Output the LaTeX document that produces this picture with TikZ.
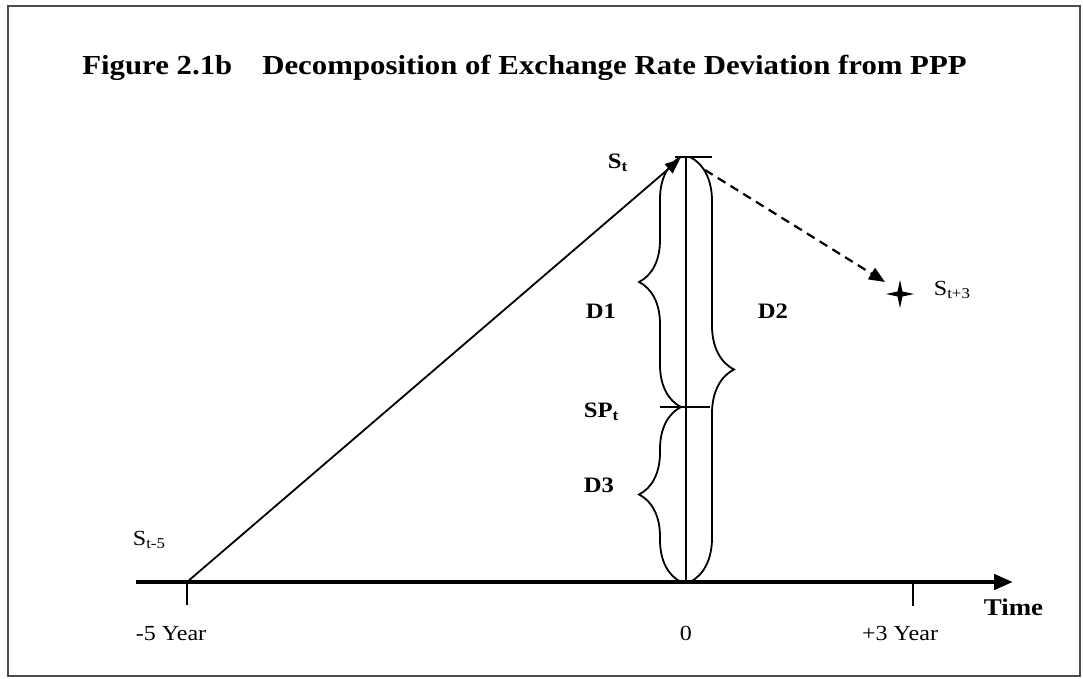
\documentclass[tikz,border=0pt]{standalone}
\usepackage{fontspec}
\setmainfont{Liberation Serif}[FakeStretch=1.12]
\usepackage{tikz}
\usetikzlibrary{arrows.meta,calc,decorations.pathreplacing}

\begin{document}
\begin{tikzpicture}[x=1pt, y=-1pt, >=Triangle, line width=1.8pt,
    lab/.style={font=\fontsize{21.5}{21.5}\selectfont, inner sep=0pt},
    blab/.style={font=\fontsize{22}{22}\selectfont\bfseries, inner sep=0pt},
    brc/.style={decorate, decoration={brace, amplitude=42pt}}]
    \useasboundingbox (0,0) rectangle (1083,679);
    % frame and title
    \draw[line width=2.5pt, black!70] (8,6) rectangle (1080,676);
    \node[anchor=base, inner sep=0pt, font=\fontsize{27.5}{27.5}\selectfont\bfseries] (title) at (524.5,75)
        {Figure 2.1b\hspace{30pt}Decomposition of Exchange Rate Deviation from PPP};

    % time axis
    \coordinate (a0) at (136,582);
    \coordinate (a1) at (1013,582);
    \coordinate (m5) at (187,582);
    \coordinate (zero) at (686,582);
    \coordinate (p3) at (913,582);
    \draw[line width=4.5pt, -{Triangle[length=19pt,width=15pt]}] (a0) -- (a1);
    \draw[line width=1.3pt] (m5) -- ++(0,23);
    \draw[line width=1.3pt] (p3) -- ++(0,24);
    \node[lab, anchor=base] (lm5) at (171,640) {-5 Year};
    \node[lab, anchor=base] (l0) at (686,640) {0};
    \node[lab, anchor=base] (lp3) at (900,640) {+3 Year};
    \node[blab, anchor=base west, font=\fontsize{24}{24}\selectfont\bfseries] (time) at (983,615) {Time};

    % S_t and SP_t levels
    \coordinate (st) at (686,157);
    \coordinate (sp) at (686,407);
    \draw[line width=1.3pt] (zero) -- (st);
    \draw ($(st)+(-11,0)$) -- ($(st)+(26,0)$);
    \draw ($(sp)+(-26,0)$) -- ($(sp)+(24,0)$);

    % path from S_{t-5} up to S_t
    \draw[-{Triangle[length=15pt,width=12pt]}] (m5) -- ($(st)+(-6,2)$);

    % braces D1, D3 (left) and D2 (right)
    \draw[brc] ($(sp)+(-5,0)$) -- ($(st)+(-5,0)$);
    \draw[brc] ($(zero)+(-5,0)$) -- ($(sp)+(-5,0)$);
    \draw[brc, decoration={amplitude=44pt}] ($(st)+(4,0)$) -- ($(zero)+(4,0)$);

    % labels
    \node[blab, anchor=base west] (stl) at (607,168) {S\textsubscript{t}};
    \node[blab, anchor=base west] (d1) at (585,318) {D1};
    \node[blab, anchor=base west] (d2) at (757,318) {D2};
    \node[blab, anchor=base west] (spl) at (583,417) {SP\textsubscript{t}};
    \node[blab, anchor=base west] (d3) at (583,492) {D3};
    \node[lab, anchor=base west] (sm5) at (132,545) {S\textsubscript{t-5}};
    \node[lab, anchor=base west] (sp3) at (933,295) {S\textsubscript{t+3}};

    % expected move to S_{t+3}
    \coordinate (s3) at (900,294);
    \draw[line width=2.2pt, dash pattern=on 9pt off 6pt, -{Triangle[length=16pt,width=13pt]}]
        ($(st)+(19,13)$) -- ($(s3)+(-15,-12)$);
    \fill (s3) ++(0,-14) -- ++(2.5,11.5) -- ++(11.5,2.5) -- ++(-11.5,2.5) -- ++(-2.5,11.5)
        -- ++(-2.5,-11.5) -- ++(-11.5,-2.5) -- ++(11.5,-2.5) -- cycle;
\end{tikzpicture}
\end{document}
